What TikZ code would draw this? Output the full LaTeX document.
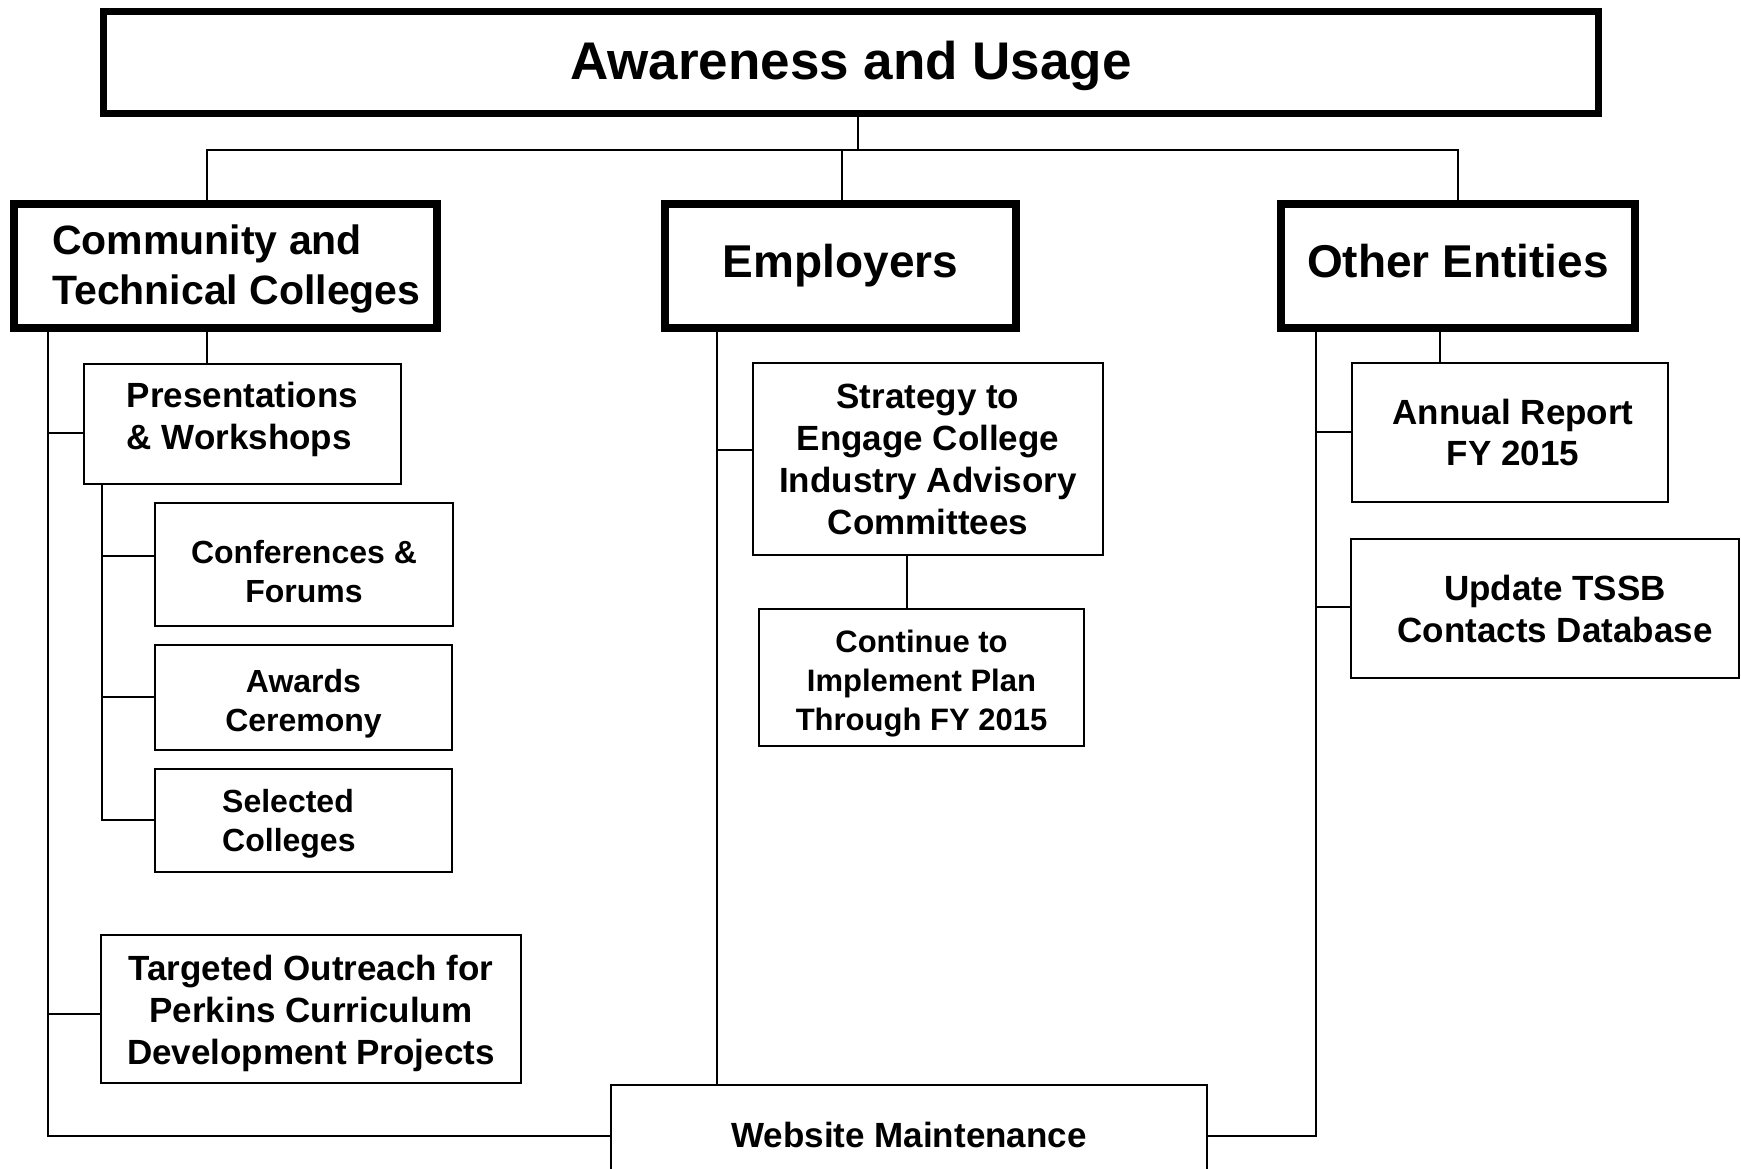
\documentclass[tikz,border=0pt]{standalone}
\usepackage{fontspec}
\setmainfont{Liberation Sans}
\newcommand\fsz[2]{\fontsize{#1pt}{#2pt}\selectfont\bfseries}
\begin{document}
\begin{tikzpicture}[x=1pt,y=-1pt,
  thickbox/.style={draw, line width=8pt, inner sep=0pt},
  thinbox/.style={draw, line width=2pt, inner sep=0pt},
  txt/.style={inner sep=0pt, align=center},
  conn/.style={line width=2pt}]
\clip (0,0) rectangle (1741,1168);
\fill[white] (0,0) rectangle (1741,1168);
% ---------- boxes ----------
\node[thickbox, line width=7pt, minimum width=1495pt, minimum height=102pt] (top) at (851,62.5) {};
\node[thickbox, minimum width=423pt, minimum height=124pt] (ctc) at (225.5,266) {};
\node[thickbox, minimum width=351pt, minimum height=124pt] (emp) at (840.5,266) {};
\node[thickbox, minimum width=354pt, minimum height=124pt] (oe) at (1458,266) {};
\node[thinbox, minimum width=317pt, minimum height=120pt] (pres) at (242.5,424) {};
\node[thinbox, minimum width=298pt, minimum height=123pt] (conf) at (304,564.5) {};
\node[thinbox, minimum width=297pt, minimum height=105pt] (awd) at (303.5,697.5) {};
\node[thinbox, minimum width=297pt, minimum height=103pt] (sel) at (303.5,820.5) {};
\node[thinbox, minimum width=420pt, minimum height=148pt] (tgt) at (311,1009) {};
\node[thinbox, minimum width=350pt, minimum height=192pt] (strat) at (928,459) {};
\node[thinbox, minimum width=325pt, minimum height=137pt] (cont) at (921.5,677.5) {};
\node[thinbox, minimum width=316pt, minimum height=139pt] (ann) at (1510,432.5) {};
\node[thinbox, minimum width=388pt, minimum height=139pt] (upd) at (1545,608.5) {};
\node[thinbox, minimum width=596pt, minimum height=106pt] (web) at (909,1138) {};
% ---------- texts ----------
\node[txt, font=\fsz{53}{60}] (top-t) at ([yshift=-3pt]top.center) {Awareness and Usage};
\node[txt, align=left, anchor=west, font=\fsz{41}{50}] (ctc-t) at ([yshift=-3pt]ctc.center -| 52,0) {Community and\\Technical Colleges};
\node[txt, font=\fsz{46}{54}] (emp-t) at (emp.center) {Employers};
\node[txt, font=\fsz{46}{54}] (oe-t) at ([yshift=4.5pt]oe.center) {Other Entities};
\node[txt, align=left, font=\fsz{35}{42}] (pres-t) at ([yshift=4.5pt]pres.center) {Presentations\\\& Workshops};
\node[txt, font=\fsz{32}{39}] (conf-t) at ([yshift=-7pt]conf.center) {Conferences \&\\Forums};
\node[txt, font=\fsz{32}{39}] (awd-t) at ([yshift=-6pt]awd.center) {Awards\\Ceremony};
\node[txt, align=left, anchor=west, font=\fsz{32}{39}] (sel-t) at ([yshift=-3pt]sel.center -| 222,0) {Selected\\Colleges};
\node[txt, font=\fsz{35}{42}] (tgt-t) at ([yshift=-4pt]tgt.center) {Targeted Outreach for\\Perkins Curriculum\\Development Projects};
\node[txt, font=\fsz{35}{42}] (strat-t) at (strat.center) {Strategy to\\Engage College\\Industry Advisory\\Committees};
\node[txt, font=\fsz{31}{39}] (cont-t) at ([yshift=-6pt]cont.center) {Continue to\\Implement Plan\\Through FY 2015};
\node[txt, font=\fsz{35}{41}] (ann-t) at ([xshift=3pt]ann.center) {Annual Report\\FY 2015};
\node[txt, font=\fsz{35}{42}] (upd-t) at ([xshift=10pt]upd.center) {Update TSSB\\Contacts Database};
\node[txt, font=\fsz{35}{42}] (web-t) at ([yshift=3pt]web.center) {Website Maintenance};
% ---------- bus coordinates ----------
\coordinate (busT) at (858,150);
\coordinate (busL) at (207,150);
\coordinate (busM) at (842,150);
\coordinate (busR) at (1458,150);
\coordinate (lt) at (48,1136);
\coordinate (st) at (102,0);
\coordinate (et) at (717,0);
\coordinate (ot) at (1316,1136);
\coordinate (sc) at (907,0);
\coordinate (oa) at (1440,0);
% ---------- connectors ----------
\draw[conn] (top.south -| busT) -- (busT);
\draw[conn] (ctc.north -| busL) -- (busL) -- (busR) -- (oe.north -| busR);
\draw[conn] (emp.north -| busM) -- (busM);
% colleges
\draw[conn] (ctc.south -| lt) -- (lt) -- (web.west |- lt);
\draw[conn] (ctc.south -| busL) -- (pres.north -| busL);
\draw[conn] (lt |- 0,433) -- (pres.west |- 0,433);
\draw[conn] (lt |- 0,1014) -- (tgt.west |- 0,1014);
\draw[conn] (pres.south -| st) -- (st |- 0,820) -- (sel.west |- 0,820);
\draw[conn] (st |- 0,556) -- (conf.west |- 0,556);
\draw[conn] (st |- 0,697) -- (awd.west |- 0,697);
% employers
\draw[conn] (emp.south -| et) -- (web.north -| et);
\draw[conn] (et |- 0,450) -- (strat.west |- 0,450);
\draw[conn] (strat.south -| sc) -- (cont.north -| sc);
% other entities
\draw[conn] (oe.south -| ot) -- (ot) -- (web.east |- ot);
\draw[conn] (oe.south -| oa) -- (ann.north -| oa);
\draw[conn] (ot |- 0,432) -- (ann.west |- 0,432);
\draw[conn] (ot |- 0,607) -- (upd.west |- 0,607);
\end{tikzpicture}
\end{document}
